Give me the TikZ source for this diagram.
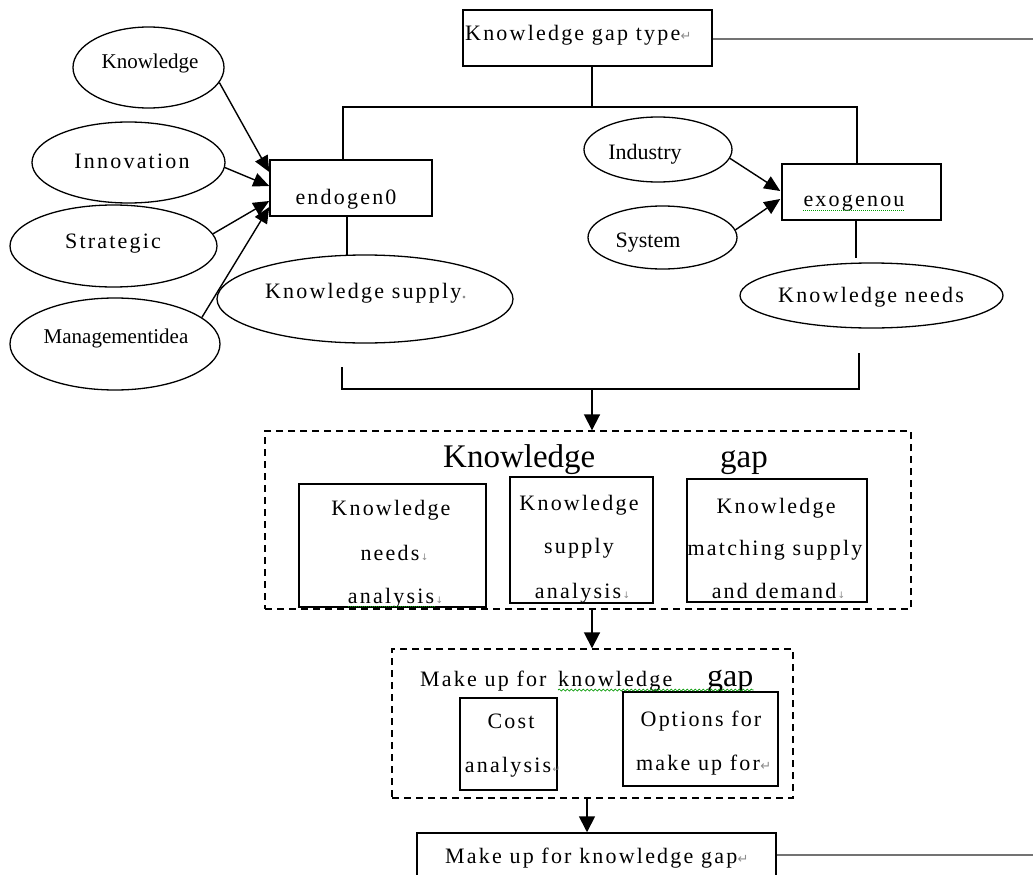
\documentclass[tikz,border=0pt]{standalone}
\usepackage{fontspec}
\setmainfont{Liberation Serif}
\newfontfamily\spacedserif[LetterSpace=10]{Liberation Serif}
\newfontfamily\symfont{DejaVu Sans}
\usetikzlibrary{arrows.meta,shapes.geometric,decorations.pathmorphing}

\tikzset{
  frame/.style={draw=black, line width=1.5pt, rectangle, inner sep=0pt},
  oval/.style={draw=black, line width=1.3pt, ellipse, inner sep=0pt},
  dbox/.style={draw=black, line width=1.4pt, dash pattern=on 7pt off 5pt, rectangle, inner sep=0pt},
  conn/.style={line width=1.5pt},
  greyline/.style={line width=1.7pt, draw=black!55},
  feed/.style={line width=1.4pt, -{Triangle[length=16pt,width=14pt]}},
  flow/.style={line width=1.8pt, -{Triangle[length=16pt,width=16pt]}},
  txt/.style={font=\spacedserif\fontsize{22}{26}\selectfont, inner sep=0pt, anchor=base},
  ntxt/.style={font=\fontsize{22}{26}\selectfont, inner sep=0pt, anchor=base},
  bigtxt/.style={font=\fontsize{33}{38}\selectfont, inner sep=0pt, anchor=base west},
  rmark/.style={font=\symfont\fontsize{13}{14}\selectfont, text=black!45, inner sep=0pt, anchor=base west},
  smark/.style={font=\symfont\fontsize{9}{10}\selectfont, text=black!45, inner sep=0pt, anchor=base west, xshift=1pt},
  gdotted/.style={draw=green!60!black, line width=0.9pt, dash pattern=on 1pt off 1pt},
  gwavy/.style={draw=green!60!black, line width=0.7pt, decorate, decoration={snake, amplitude=1pt, segment length=4pt}}
}

\begin{document}
\begin{tikzpicture}[x=1pt,y=-1pt]
\useasboundingbox (0,0) rectangle (1033,875);
\fill[white] (0,0) rectangle (1033,875);

% ---------- gap type and its two branches ----------
\node[frame, minimum width=249pt, minimum height=56pt] (gaptype) at (587.5,38) {};
\node[txt, anchor=base west] (gaptypeT) at (465,41) {Knowledge gap type};
\node[rmark] (gaptypeM) at (gaptypeT.base east) {↵};

\node[frame, minimum width=162pt, minimum height=56pt] (endo) at (351,188) {};
\node[txt] (endoT) at (346,204) {endogen0};

\node[frame, minimum width=159pt, minimum height=56pt] (exo) at (861.5,192) {};
\node[txt] (exoT) at (854,206) {exogenou};

\node[oval, minimum width=296pt, minimum height=88pt] (ksup) at (365,299) {};
\node[txt] (ksupT) at (366,298) {Knowledge supply\textcolor{black!45}{.}};

\node[oval, minimum width=263pt, minimum height=65pt] (kneed) at (871.5,295.5) {};
\node[txt] (kneedT) at (871,302) {Knowledge needs};

% ---------- internal factors ----------
\node[oval, minimum width=151pt, minimum height=81pt] (kn) at (148.5,67.5) {};
\node[ntxt, font=\fontsize{21}{24}\selectfont] (knT) at (150,69) {Knowledge};
\node[oval, minimum width=193pt, minimum height=81pt] (inn) at (128.5,162.5) {};
\node[txt] (innT) at (132,168) {Innovation};
\node[oval, minimum width=207pt, minimum height=82pt] (strat) at (113.5,246) {};
\node[txt] (stratT) at (113,248) {Strategic};
\node[oval, minimum width=210pt, minimum height=92pt] (mgt) at (115,344) {};
\node[ntxt, font=\fontsize{21}{24}\selectfont] (mgtT) at (116,343) {Managementidea};

% ---------- external factors ----------
\node[oval, minimum width=148pt, minimum height=65pt] (ind) at (658,149.5) {};
\node[ntxt] (indT) at (645,159) {Industry};
\node[oval, minimum width=149pt, minimum height=63pt] (sys) at (662.5,237.5) {};
\node[ntxt] (sysT) at (648,247) {System};

% ---------- knowledge gap analysis ----------
\node[dbox, minimum width=646pt, minimum height=178pt] (gapbox) at (588,520) {};
\node[bigtxt] (gapT1) at (443,467) {Knowledge};
\node[bigtxt] (gapT2) at (720,467) {gap};

\node[frame, minimum width=187pt, minimum height=123pt] (boxA) at (392.5,545.5) {};
\node[txt] (aT1) at (391,515) {Knowledge};
\node[txt] (aT2) at (390,560) {needs};
\node[smark] (aM2) at (aT2.base east) {↓};
\node[txt] (aT3) at (391,603) {analysis};
\node[smark] (aM3) at (aT3.base east) {↓};

\node[frame, minimum width=143pt, minimum height=126pt] (boxB) at (581.5,540) {};
\node[txt] (bT1) at (579,510) {Knowledge};
\node[txt] (bT2) at (579,553) {supply};
\node[txt] (bT3) at (578,598) {analysis};
\node[smark] (bM3) at (bT3.base east) {↓};

\node[frame, minimum width=180pt, minimum height=123pt] (boxC) at (777,540.5) {};
\node[txt] (cT1) at (776,513) {Knowledge};
\node[txt] (cT2) at (775,555) {matching supply};
\node[txt] (cT3) at (774,598) {and demand};
\node[smark] (cM3) at (cT3.base east) {↓};

% ---------- making up for the gap ----------
\node[dbox, minimum width=401pt, minimum height=149pt] (fillbox) at (592.5,723.5) {};
\node[txt, anchor=base west] (fT1) at (420,686) {Make up for};
\node[txt, anchor=base west] (fT2) at (558,686) {knowledge};
\node[bigtxt, font=\fontsize{32}{36}\selectfont] (fT3) at (707,686) {gap};

\node[frame, minimum width=97pt, minimum height=92pt] (cost) at (508.5,744) {};
\node[txt] (costT1) at (511,728) {Cost};
\node[txt] (costT2) at (508,772) {analysis};
\node[smark] (costM) at (costT2.base east) {↵};

\node[frame, minimum width=155pt, minimum height=94pt] (opt) at (700.5,739) {};
\node[txt] (optT1) at (701,726) {Options for};
\node[txt] (optT2) at (698,770) {make up for};
\node[rmark] (optM) at (optT2.base east) {↵};

\node[frame, minimum width=359pt, minimum height=70pt] (result) at (596.5,868) {};
\node[txt, anchor=base west] (resultT) at (445,863) {Make up for knowledge gap};
\node[rmark] (resultM) at (resultT.base east) {↵};

% ---------- spelling marks ----------
\draw[gdotted] ([yshift=-4pt]exoT.base west) -- ([yshift=-4pt]exoT.base east);
\draw[gdotted] ([yshift=-3pt]aT3.base west) -- ([yshift=-3pt]aT3.base east);
\draw[gwavy] ([yshift=-4pt]fT2.base west) -- ([yshift=-4pt]fT3.base east);

% ---------- tree connectors ----------
\coordinate (busM) at (592,107);
\coordinate (busL) at (343,107);
\coordinate (busR) at (857,107);
\draw[conn] (busM |- gaptype.south) -- (busM);
\draw[conn] (busL |- endo.north) -- (busL) -- (busR) -- (busR |- exo.north);

\coordinate (endoDrop) at (347,255);
\coordinate (exoDrop) at (856,258);
\draw[conn] (endoDrop |- endo.south) -- (endoDrop);
\draw[conn] (exoDrop |- exo.south) -- (exoDrop);

\coordinate (brL) at (342,367);
\coordinate (brR) at (859,353);
\coordinate (brM) at (592,389);
\draw[conn] (brL) -- (brL |- brM) -- (brR |- brM) -- (brR);

% ---------- factor arrows ----------
\draw[feed] (kn.-12) -- ([yshift=16pt]endo.west);
\draw[feed] (inn.-3) -- ([yshift=2pt]endo.west);
\draw[feed] (strat.7) -- ([yshift=-13pt]endo.west);
\draw[feed] (mgt.17) -- ([yshift=-19pt]endo.west);
\draw[feed] (ind.-7) -- ([yshift=1pt,xshift=-1pt]exo.west);
\draw[feed] (sys.6) -- ([yshift=-7pt,xshift=-1pt]exo.west);

% ---------- main flow ----------
\coordinate (lowM) at (587,798);
\draw[flow] (brM) -- (brM |- gapbox.north);
\draw[flow] (brM |- gapbox.south) -- (brM |- fillbox.north);
\draw[flow] (lowM |- fillbox.south) -- (lowM |- result.north);

% ---------- feedback lines to the right edge ----------
\coordinate (topEnd) at (1033,39);
\coordinate (botEnd) at (1033,855);
\draw[greyline] (topEnd -| gaptype.east) -- (topEnd);
\draw[greyline] (botEnd -| result.east) -- (botEnd);
\end{tikzpicture}
\end{document}
